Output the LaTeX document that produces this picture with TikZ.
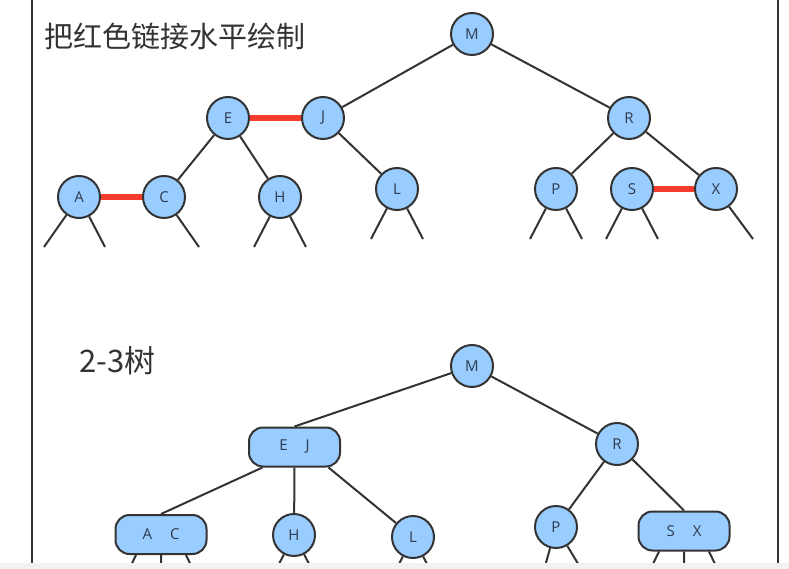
\documentclass[tikz,border=0pt]{standalone}
\usepackage{fontspec,xcolor,tikz}
\setmainfont{Open Sans}
\newfontfamily\cjk{Noto Sans CJK SC}
\definecolor{knotblau}{HTML}{99CCFF}
\definecolor{rand}{HTML}{333333}
\definecolor{rotlink}{HTML}{F63C2C}
\definecolor{schrift}{HTML}{2E3B4E}
\definecolor{titel}{HTML}{333333}
\definecolor{streifen}{HTML}{F2F2F2}
\newcommand{\knotfont}{\fontsize{15}{17}\selectfont}
\newcommand{\htitel}{\cjk\fontsize{29}{34}\selectfont}
\newcommand{\htitelb}{\cjk\fontsize{31}{36}\selectfont}
\tikzset{knoten/.style={circle,draw=rand,fill=knotblau,line width=2pt,
    minimum size=42pt,inner sep=0,text=schrift,font=\knotfont},
  dreiknoten/.style={rectangle,rounded corners=14pt,draw=rand,fill=knotblau,
    line width=2pt,minimum width=91pt,minimum height=39pt,inner sep=0,
    text=schrift,font=\knotfont},
  kante/.style={rand,line width=2pt},
  rotkante/.style={rotlink,line width=6pt},
  rahmen/.style={rand,line width=2pt}}

\begin{document}
\begin{tikzpicture}[x=1pt,y=-1pt]
\useasboundingbox (0,0) rectangle (789,569);
% Rahmenlinien links und rechts
\draw[rahmen] (32,0) -- (32,563) (778,0) -- (778,563);
% oben: Rot-Schwarz-Baum, rote Links waagrecht
\node[anchor=west,inner sep=0,text=titel,font=\htitel] (titelA) at (44,36) {把红色链接水平绘制};
\node[knoten] (M) at (472,34) {M};
\node[knoten] (E) at (228,118) {E};
\node[knoten] (J) at (323,118) {J};
\node[knoten] (R) at (629,118) {R};
\node[knoten] (A) at (79,197) {A};
\node[knoten] (C) at (164,197) {C};
\node[knoten] (H) at (280,197) {H};
\node[knoten] (L) at (397,189) {L};
\node[knoten] (P) at (556,189) {P};
\node[knoten] (S) at (632,189) {S};
\node[knoten] (X) at (716,189) {X};
\draw[kante] (M) -- (J) (M) -- (R) (J) -- (L) (E) -- (C) (E) -- (H)
  (R) -- (P) (R) -- (X);
\draw[rotkante] (E) -- (J) (A) -- (C) (S) -- (X);
\foreach \n/\dx [count=\i] in {A/-35,A/26,C/35,H/-26,H/26,L/-26,L/26,
    P/-26,P/26,S/-26,S/26,X/37} {
  \coordinate (blatt\i) at ([shift={(\dx,50)}]\n.center);
  \draw[kante] (\n) -- (blatt\i);
}
% unten: der gleiche Baum als 2-3-Baum
\node[anchor=west,inner sep=0,text=titel,font=\htitelb] (titelB) at (79,361) {2-3树};
\node[knoten] (uM) at (472,366) {M};
\node[dreiknoten] (EJ) at (294.5,447) {E\hspace{18pt}J};
\node[knoten] (uR) at (617,444) {R};
\node[dreiknoten] (AC) at (161,534.5) {A\hspace{18pt}C};
\node[knoten] (uH) at (294,535) {H};
\node[knoten] (uL) at (413,537) {L};
\node[knoten] (uP) at (556,527) {P};
\node[dreiknoten] (SX) at (684,531) {S\hspace{18pt}X};
\coordinate (EJl) at ([xshift=-32pt]EJ.south);
\coordinate (EJr) at ([xshift=34pt]EJ.south);
\draw[kante] (uM) -- (EJ.north) (uM) -- (uR) (EJl) -- (AC.north)
  (EJ.south) -- (uH) (EJr) -- (uL) (uR) -- (uP) (uR) -- (SX.north);
\foreach \n/\dx [count=\i] in {uH/-26,uH/26,uL/-26,uL/26,uP/-14,uP/30} {
  \coordinate (ublatt\i) at ([shift={(\dx,50)}]\n.center);
  \draw[kante] (\n) -- (ublatt\i);
}
\foreach \n in {AC,SX} {
  \coordinate (\n l) at ([xshift=-25pt]\n.south);
  \coordinate (\n r) at ([xshift=25pt]\n.south);
  \coordinate (\n lf) at ([shift={(-12,25)}]\n l);
  \coordinate (\n mf) at ([shift={(0,25)}]\n.south);
  \coordinate (\n rf) at ([shift={(12,25)}]\n r);
  \draw[kante] (\n l) -- (\n lf) (\n.south) -- (\n mf) (\n r) -- (\n rf);
}
% unterer Bildrand
\fill[streifen] (0,563) rectangle (789,569);
\end{tikzpicture}
\end{document}
